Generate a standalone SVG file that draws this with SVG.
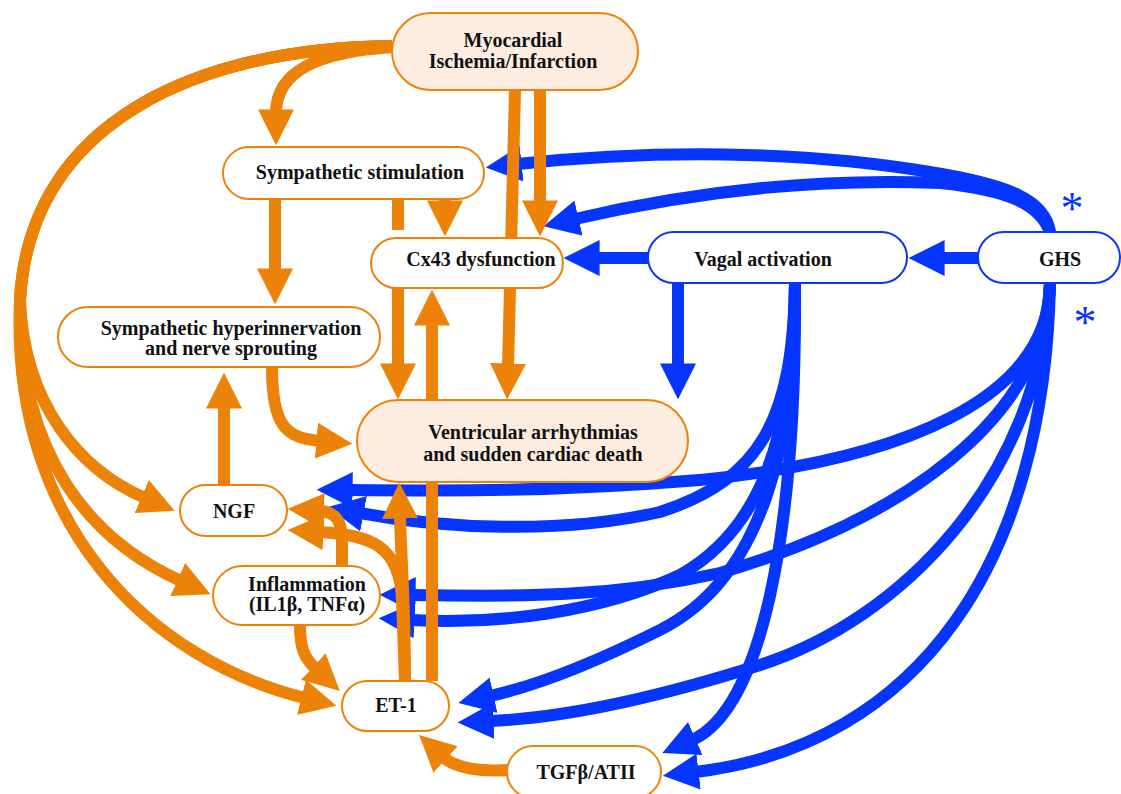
<svg xmlns="http://www.w3.org/2000/svg" width="1121" height="794" viewBox="0 0 1121 794">
<style>
.bg{fill:#ffffff}
.no{fill:#ffffff;stroke:#ed8208;stroke-width:2}
.np{fill:#fdede1;stroke:#ed8208;stroke-width:2}
.nb{fill:#ffffff;stroke:#0a36ff;stroke-width:2}
.t{font-family:"Liberation Serif","Times New Roman",serif;font-weight:bold;font-size:20px;fill:#111111;text-anchor:middle}
.co{fill:none;stroke:#ed8208;stroke-width:12;marker-end:url(#ao)}
.cs{fill:none;stroke:#ed8208;stroke-width:12}
.cb{fill:none;stroke:#0535ff;stroke-width:12;marker-end:url(#ab)}
.ast{font-family:"Liberation Serif",serif;font-size:46px;fill:#0535ff;text-anchor:middle}
</style>
<defs>
<marker id="ao" viewBox="0 0 3 3" refX="0.3" refY="1.5" markerWidth="3" markerHeight="3" orient="auto" markerUnits="strokeWidth"><path d="M0,0 L3,1.5 L0,3 z" fill="#ed8208"/></marker>
<marker id="ab" viewBox="0 0 3 3" refX="0.3" refY="1.5" markerWidth="3" markerHeight="3" orient="auto" markerUnits="strokeWidth"><path d="M0,0 L3,1.5 L0,3 z" fill="#0535ff"/></marker>
</defs>
<rect class="bg" x="0" y="0" width="1121" height="794"/>
<g id="connectors">
<g id="blue-connectors">
<path class="cb" d="M648,258 L596,258"/>
<path class="cb" d="M978,258 L941,258"/>
<path class="cb" d="M678,283 L678,367"/>
<path class="cb" d="M1050,232 C1045,200 1010,185 930,172 C800,150 650,150 518,164"/>
<path class="cb" d="M1050,232 C1040,205 1010,190 940,183 C820,178 700,190 575,219"/>
<path class="cb" d="M1050,283 C1050,400 900,460 700,480 C550,492 450,491 349,490"/>
<path class="cb" d="M795,283 C793,420 760,480 660,512 C560,535 440,528 360,513"/>
<path class="cb" d="M1050,283 C1045,420 900,520 720,573 C600,600 500,596 412,595"/>
<path class="cb" d="M795,283 C793,440 760,530 680,575 C600,612 500,625 411,620"/>
<path class="cb" d="M795,283 C795,450 760,580 660,630 C600,660 540,685 490,696"/>
<path class="cb" d="M795,283 C797,540 760,710 692,740"/>
<path class="cb" d="M1050,283 C1040,480 900,620 760,665 C650,700 560,718 490,721"/>
<path class="cb" d="M1050,283 C1045,560 920,745 695,772"/>
</g>
<g id="orange-connectors">
<path class="co" d="M392,47 C320,52 276,70 276,113"/>
<path class="co" d="M392,46 C200,48 30,120 20,300 C24,405 80,470 145,498"/>
<path class="co" d="M392,46 C200,48 30,120 20,300 C18,455 90,540 181,581"/>
<path class="co" d="M392,46 C200,48 30,120 20,300 C10,525 150,660 305,698"/>
<path class="co" d="M275,199 L275,272"/>
<path class="cs" d="M398,199 L398,230"/>
<path class="co" d="M445,200 L445,204"/>
<path class="co" d="M540,90 L540,204"/>
<path class="co" d="M515,90 L508,367"/>
<path class="co" d="M398,288 L398,367"/>
<path class="co" d="M432,681 L432,322"/>
<path class="co" d="M405,681 C405,600 401,560 400,515"/>
<path class="co" d="M405,681 L402,600 C400,545 370,535 320,532"/>
<path class="co" d="M342,566 L342,540 C342,520 335,512 320,511"/>
<path class="co" d="M300,625 C300,648 304,658 316,669"/>
<path class="co" d="M224,485 L224,405"/>
<path class="co" d="M272,367 C272,425 285,438 320,441"/>
<path class="co" d="M508,770 C480,772 455,768 443,757"/>
</g>
</g>
<g id="n-myocardial"><rect class="np" x="392" y="13" width="246" height="77" rx="38.5"/><text class="t" x="513" y="47">Myocardial</text><text class="t" x="513" y="68">Ischemia/Infarction</text></g>
<g id="n-sympstim"><rect class="no" x="223" y="147" width="261" height="52" rx="26"/><text class="t" x="360" y="179">Sympathetic stimulation</text></g>
<g id="n-cx43"><rect class="no" x="371" y="238" width="192" height="50" rx="25"/><text class="t" x="481" y="266">Cx43 dysfunction</text></g>
<g id="n-vagal"><rect class="nb" x="648" y="232" width="259" height="51" rx="25.5"/><text class="t" x="763" y="266">Vagal activation</text></g>
<g id="n-ghs"><rect class="nb" x="978" y="232" width="142" height="51" rx="25.5"/><text class="t" x="1060" y="266">GHS</text></g>
<g id="n-hyper"><rect class="no" x="58" y="307" width="322" height="60" rx="30"/><text class="t" x="231" y="335">Sympathetic hyperinnervation</text><text class="t" x="231" y="355">and nerve sprouting</text></g>
<g id="n-ventricular"><rect class="np" x="357" y="400" width="331" height="82" rx="41"/><text class="t" x="533" y="439">Ventricular arrhythmias</text><text class="t" x="533" y="461">and sudden cardiac death</text></g>
<g id="n-ngf"><rect class="no" x="180" y="485" width="107" height="51" rx="25.5"/><text class="t" x="234" y="518">NGF</text></g>
<g id="n-inflammation"><rect class="no" x="213" y="566" width="167" height="59" rx="29.5"/><text class="t" x="307" y="591">Inflammation</text><text class="t" x="307" y="611">(IL1β, TNFα)</text></g>
<g id="n-et1"><rect class="no" x="342" y="681" width="107" height="50" rx="25"/><text class="t" x="396" y="712">ET-1</text></g>
<g id="n-tgf"><rect class="no" x="507" y="746" width="154" height="52" rx="26"/><text class="t" x="586" y="779">TGFβ/ATII</text></g>
<text class="ast" x="1072" y="224">*</text>
<text class="ast" x="1085" y="338">*</text>
</svg>
